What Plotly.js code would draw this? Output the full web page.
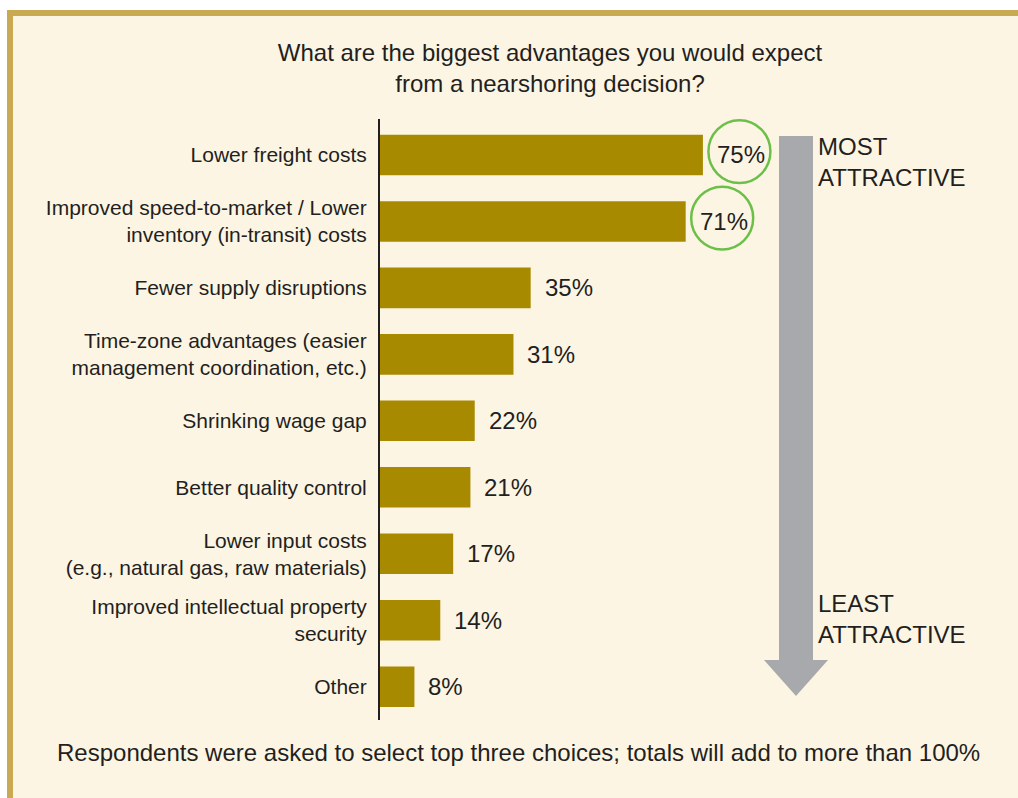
<!DOCTYPE html>
<html>
<head>
<meta charset="utf-8">
<script src="https://cdn.plot.ly/plotly-3.0.1.min.js"></script>
<style>html,body{margin:0;padding:0;background:#fff;}</style>
</head>
<body>
<div id="chart" style="width:1018px;height:798px;"></div>
<script>
var categories = [
  "Lower freight costs",
  "Improved speed-to-market / Lower<br>inventory (in-transit) costs",
  "Fewer supply disruptions",
  "Time-zone advantages (easier<br>management coordination, etc.)",
  "Shrinking wage gap",
  "Better quality control",
  "Lower input costs<br>(e.g., natural gas, raw materials)",
  "Improved intellectual property<br>security",
  "Other"
];
var values = [75, 71, 35, 31, 22, 21, 17, 14, 8];
var highlighted = [0, 1];
var titleText = "What are the biggest advantages you would expect<br>from a nearshoring decision?";
var footerText = "Respondents were asked to select top three choices; totals will add to more than 100%";
var topLabel = "MOST<br>ATTRACTIVE";
var bottomLabel = "LEAST<br>ATTRACTIVE";

var W = 1018, H = 798;
var ML = 380, MR = 18, MT = 119, MB = 78;
var plotW = W - ML - MR, plotH = H - MT - MB;
var XMAX = 144;
var pxu = plotW / XMAX;
function px2x(p){ return (p - ML) / pxu; }
function px2paperX(p){ return (p - ML) / plotW; }
function py2paperY(p){ return (H - MB - p) / plotH; }

var txt = '#231f20';
var gold = '#c9aa52';
var cream = '#fdf5e4';
var FONT = 'Liberation Sans, Arial, sans-serif';

var shapes = [
  {type:'rect', xref:'paper', yref:'paper', x0:px2paperX(0), x1:px2paperX(W), y0:py2paperY(10), y1:py2paperY(0), fillcolor:'#ffffff', line:{width:0}, layer:'below'},
  {type:'rect', xref:'paper', yref:'paper', x0:px2paperX(0), x1:px2paperX(7), y0:py2paperY(H), y1:py2paperY(0), fillcolor:'#ffffff', line:{width:0}, layer:'below'},
  {type:'rect', xref:'paper', yref:'paper', x0:px2paperX(7), x1:px2paperX(W), y0:py2paperY(16), y1:py2paperY(10), fillcolor:gold, line:{width:0}, layer:'below'},
  {type:'rect', xref:'paper', yref:'paper', x0:px2paperX(7), x1:px2paperX(13), y0:py2paperY(H), y1:py2paperY(10), fillcolor:gold, line:{width:0}, layer:'below'},
  {type:'path', xref:'x', yref:'paper',
   path: 'M' + px2x(779) + ',' + py2paperY(136) +
         ' L' + px2x(813) + ',' + py2paperY(136) +
         ' L' + px2x(813) + ',' + py2paperY(660) +
         ' L' + px2x(828) + ',' + py2paperY(660) +
         ' L' + px2x(796) + ',' + py2paperY(696) +
         ' L' + px2x(764) + ',' + py2paperY(660) +
         ' L' + px2x(779) + ',' + py2paperY(660) + ' Z',
   fillcolor:'#a7a9ac', line:{width:0}}
];

var labelShift = 12;
var labelHalfW = 24.5;
highlighted.forEach(function(i){
  var cx = values[i] + (labelShift + labelHalfW) / pxu;
  var rx = 31 / pxu;
  var ry = 31.5 / (plotH / categories.length);
  shapes.push({type:'circle', xref:'x', yref:'y',
    x0: cx - rx, x1: cx + rx, y0: i - 0.05 - ry, y1: i - 0.05 + ry,
    line:{color:'#6cc04a', width:2.5}, fillcolor:'rgba(0,0,0,0)'});
});

var annotations = values.map(function(v, i){
  return {x: v, y: categories[i], xref:'x', yref:'y', text: v + '%', showarrow:false,
    xanchor:'left', yanchor:'middle', xshift: labelShift,
    font:{family:FONT, size:24, color:txt}};
});
function sideLabel(t, py){
  return {x: px2x(816), y: py2paperY(py), xref:'x', yref:'paper', text:t, showarrow:false,
    xanchor:'left', yanchor:'middle', align:'left',
    font:{family:FONT, size:24, color:txt}};
}
annotations.push(sideLabel(topLabel, 162));
annotations.push(sideLabel(bottomLabel, 619));
annotations.push({x: px2paperX(518), y: py2paperY(752), xref:'paper', yref:'paper', text: footerText,
  showarrow:false, xanchor:'center', yanchor:'middle',
  font:{family:FONT, size:24, color:txt}});

var trace = {
  type:'bar', orientation:'h', x: values, y: categories,
  marker:{color:'#a88a00'}, hoverinfo:'none'
};

var layout = {
  width: W, height: H,
  margin:{l:ML, r:MR, t:MT, b:MB, pad:0},
  paper_bgcolor: cream, plot_bgcolor: 'rgba(0,0,0,0)',
  showlegend:false,
  bargap: 0.39,
  title:{text: titleText, x: 550 / W, xref:'container', xanchor:'center',
    y: 1 - 61 / H, yref:'container', yanchor:'middle',
    font:{family:FONT, size:24, color:txt}},
  xaxis:{range:[0, XMAX], showgrid:false, zeroline:false, showticklabels:false, showline:false, fixedrange:true},
  yaxis:{type:'category', autorange:'reversed', showgrid:false, zeroline:false,
    showline:true, linecolor:'#231f20', linewidth:2, ticks:'', ticklabelstandoff:7,
    tickfont:{family:FONT, size:21, color:txt}},
  shapes: shapes,
  annotations: annotations
};

Plotly.newPlot('chart', [trace], layout, {displayModeBar:false, staticPlot:true});
</script>
</body>
</html>
